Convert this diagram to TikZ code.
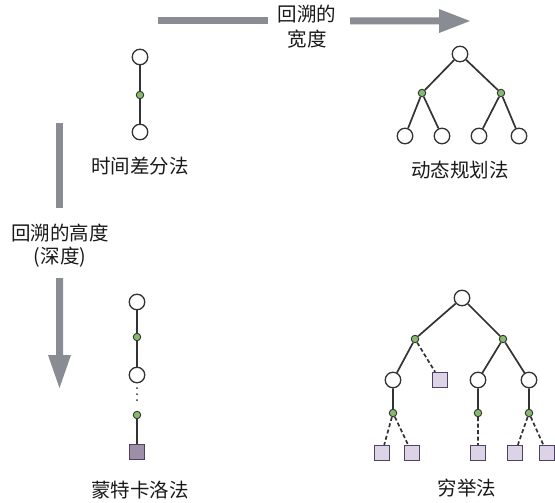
\documentclass[tikz,border=0pt]{standalone}
\usepackage{fontspec}
\setmainfont{Noto Sans CJK SC}
\definecolor{arrowgray}{HTML}{8A8C94}
\definecolor{linedark}{HTML}{333333}
\definecolor{actgreen}{HTML}{86BA6C}
\definecolor{termfill}{HTML}{DDD3E6}
\definecolor{termline}{HTML}{4E4260}
\definecolor{mcfill}{HTML}{9D8FA8}
\tikzset{
  px/.style={x=1pt,y=-1pt},
  state/.style={circle,draw=linedark,fill=white,line width=1.3pt,minimum size=15.5pt,inner sep=0pt},
  act/.style={circle,draw=linedark,fill=actgreen,line width=0.9pt,minimum size=7.5pt,inner sep=0pt},
  term/.style={rectangle,draw=termline,fill=termfill,line width=1.2pt,minimum size=15pt,inner sep=0pt},
  mcterm/.style={term,fill=mcfill},
  link/.style={draw=linedark,line width=1.7pt},
  dlink/.style={link,dash pattern=on 4pt off 2.5pt},
  tiny/.style={circle,fill=linedark,minimum size=2pt,inner sep=0pt},
  lbl/.style={font=\fontsize{19.5}{21}\selectfont,text=black!90,inner sep=0pt},
  bigarrow/.style={fill=arrowgray,draw=none}
}
\begin{document}
\begin{tikzpicture}[px]
\useasboundingbox (0,0) rectangle (555,503);

% horizontal arrow: breadth of backup
\path[bigarrow] (158,17.5) rectangle (268,24.5);
\path[bigarrow] (350,17.5) -- (439,17.5) -- (439,9) -- (470,21) -- (439,33) -- (439,24.5) -- (350,24.5) -- cycle;
\node[lbl] (wtop) at (307,14) {回溯的};
\node[lbl] (wbot) at (307,39) {宽度};

% vertical arrow: depth of backup
\path[bigarrow] (56,123) rectangle (63,208);
\path[bigarrow] (56,278) -- (56,355) -- (48,355) -- (59.5,388) -- (71,355) -- (63,355) -- (63,278) -- cycle;
\node[lbl] (dtop) at (60,233) {回溯的高度};
\node[lbl] (dbot) at (60,257) {(深度)};

% temporal difference
\node[state] (td1) at (140,57) {};
\node[act]   (td2) at (140,95) {};
\node[state] (td3) at (140,132) {};
\draw[link] (td1) -- (td2) -- (td3);
\node[lbl] (tdl) at (140,166) {时间差分法};

% dynamic programming
\node[state] (dp0) at (460,54) {};
\node[act]   (dpa) at (422,93) {};
\node[act]   (dpb) at (501,93) {};
\node[state] (dp1) at (405,136) {};
\node[state] (dp2) at (442,136) {};
\node[state] (dp3) at (479,136) {};
\node[state] (dp4) at (519,136) {};
\draw[link] (dp0) -- (dpa) (dp0) -- (dpb)
            (dpa) -- (dp1) (dpa) -- (dp2)
            (dpb) -- (dp3) (dpb) -- (dp4);
\node[lbl] (dpl) at (460,170) {动态规划法};

% Monte Carlo
\node[state] (mc1) at (137,302) {};
\node[act]   (mc2) at (137,337) {};
\node[state] (mc3) at (137,375) {};
\node[tiny]  (mcd1) at (137,388) {};
\node[tiny]  (mcd2) at (137,394) {};
\node[tiny]  (mcd3) at (137,400) {};
\node[act]   (mc4) at (137,415) {};
\node[mcterm] (mc5) at (137,452) {};
\draw[link] (mc1) -- (mc2) -- (mc3) (mc4) -- (mc5);
\node[lbl] (mcl) at (140,490) {蒙特卡洛法};

% exhaustive search
\node[state] (ex0) at (462,298) {};
\node[act]   (exa) at (415,339) {};
\node[act]   (exb) at (503,339) {};
\node[state] (ex1) at (393,380) {};
\node[term]  (ex2) at (440,380) {};
\node[state] (ex3) at (478,380) {};
\node[state] (ex4) at (529,380) {};
\node[act]   (exc) at (393,413) {};
\node[act]   (exd) at (478,413) {};
\node[act]   (exe) at (529,413) {};
\node[term]  (l1) at (382,453) {};
\node[term]  (l2) at (412,453) {};
\node[term]  (l3) at (478,453) {};
\node[term]  (l4) at (515,453) {};
\node[term]  (l5) at (547,453) {};
\draw[link] (ex0) -- (exa) (ex0) -- (exb)
            (exa) -- (ex1) (exb) -- (ex3) (exb) -- (ex4)
            (ex1) -- (exc) (ex3) -- (exd) (ex4) -- (exe);
\draw[dlink] (exa) -- (ex2)
             (exc) -- (l1) (exc) -- (l2)
             (exd) -- (l3)
             (exe) -- (l4) (exe) -- (l5);
\node[lbl] (exl) at (467,488) {穷举法};
\end{tikzpicture}
\end{document}
